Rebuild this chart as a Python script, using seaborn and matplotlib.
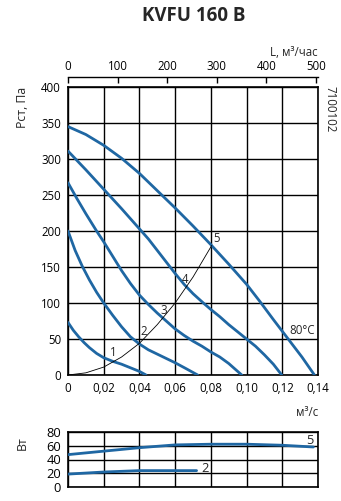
import numpy as np
import pandas as pd
import matplotlib
matplotlib.use("Agg")
import matplotlib.pyplot as plt
import seaborn as sns

# ---------------- data ----------------
title = "KVFU 160 B"
q_ticks = [0, 0.02, 0.04, 0.06, 0.08, 0.10, 0.12, 0.14]
q_tick_labels = ["0", "0,02", "0,04", "0,06", "0,08", "0,10", "0,12", "0,14"]
p_ticks = [0, 50, 100, 150, 200, 250, 300, 350, 400]
L_ticks = [0, 100, 200, 300, 400, 500]
w_ticks = [0, 20, 40, 60, 80]

c1_q = [0, 0.003, 0.006, 0.009, 0.012, 0.016, 0.020, 0.025, 0.030, 0.035, 0.040, 0.0437]
c1_p = [73, 62, 53, 45, 38, 30, 24, 19, 15, 10, 5, 0]

c2_q = [0, 0.004, 0.008, 0.012, 0.016, 0.020, 0.025, 0.030, 0.035, 0.040, 0.045, 0.050, 0.055, 0.060, 0.066, 0.0726]
c2_p = [200, 173, 151, 132, 115, 100, 83, 67, 53, 43, 35, 29, 23, 17, 9, 0]

c3_q = [0, 0.005, 0.010, 0.016, 0.020, 0.025, 0.030, 0.035, 0.040, 0.045, 0.050, 0.055, 0.060, 0.065, 0.070, 0.075, 0.080, 0.085, 0.090, 0.0973]
c3_p = [267, 245, 224, 200, 185, 165, 145, 127, 111, 98, 86, 75, 64, 55, 47, 40, 32, 25, 16, 0]

c4_q = [0, 0.010, 0.020, 0.030, 0.040, 0.045, 0.050, 0.055, 0.060, 0.065, 0.070, 0.0758, 0.080, 0.085, 0.090, 0.095, 0.100, 0.105, 0.110, 0.115, 0.1197]
c4_p = [311, 285, 258, 231, 203, 189, 173, 157, 141, 126, 113, 100, 91, 81, 70, 60, 50, 40, 28, 15, 0]

c5_q = [0, 0.010, 0.020, 0.030, 0.040, 0.050, 0.060, 0.070, 0.080, 0.090, 0.100, 0.1075, 0.115, 0.123, 0.131, 0.138]
c5_p = [345, 334, 319, 301, 280, 256, 232, 207, 181, 154, 126, 102, 77, 51, 25, 0]

sys_q = [0, 0.01, 0.02, 0.03, 0.04, 0.05, 0.06, 0.07, 0.0805]
sys_p = [0, 3, 11, 25, 44, 70, 100, 136, 180]

w5_q = [0, 0.02, 0.04, 0.06, 0.08, 0.10, 0.12, 0.1374]
w5_w = [47, 52, 57, 61, 62, 62, 60.5, 58]
w2_q = [0, 0.02, 0.04, 0.06, 0.072]
w2_w = [19, 22, 24, 24, 24]

curve_names = ["1", "2", "3", "4", "5"]

# ---------------- style ----------------
sns.set_style("white")
plt.rcParams["font.family"] = ["Open Sans", "DejaVu Sans"]
BLUE = "#1f67a3"
FS = 8.3

fig = plt.figure(figsize=(3.41, 5.01), dpi=100)
ax = fig.add_axes([68 / 341, 1 - 375 / 501, 250 / 341, 288 / 501])
axw = fig.add_axes([68 / 341, 1 - 487.3 / 501, 250 / 341, 55.6 / 501])

pres = pd.concat([
    pd.DataFrame({"q": q, "p": p, "curve": n})
    for n, q, p in zip(curve_names, [c1_q, c2_q, c3_q, c4_q, c5_q], [c1_p, c2_p, c3_p, c4_p, c5_p])
])
sns.lineplot(data=pres, x="q", y="p", units="curve", estimator=None, sort=False,
             color=BLUE, lw=2.0, ax=ax, zorder=3)
sns.lineplot(x=sys_q, y=sys_p, color="black", lw=0.6, ax=ax, estimator=None, sort=False, zorder=4)

ax.set_xlim(0, 0.14)
ax.set_ylim(0, 400)
ax.set_xticks(q_ticks)
ax.set_xticklabels(q_tick_labels)
ax.set_yticks(p_ticks)
ax.grid(True, color="black", lw=1.0)
ax.set_axisbelow(True)
ax.tick_params(length=0, labelsize=FS, pad=5, colors="black")
ax.set_xlabel("")
ax.set_ylabel("")
for s in ax.spines.values():
    s.set_color("black")
    s.set_linewidth(1.2)

# curve labels
ax.text(0.0254, 31, "1", fontsize=FS, ha="center", va="center")
ax.text(0.0426, 61, "2", fontsize=FS, ha="center", va="center")
ax.text(0.0534, 89, "3", fontsize=FS, ha="center", va="center")
ax.text(0.0655, 132, "4", fontsize=FS, ha="center", va="center")
ax.text(0.0830, 190, "5", fontsize=FS, ha="center", va="center")
ax.text(0.1312, 61.5, "80°C", fontsize=FS, ha="center", va="center")

# top axis (m3/h)
ax2 = ax.twiny()
ax2.set_xlim(0, 0.14 * 3600)
ax2.set_xticks(L_ticks)
for k in ["left", "right", "bottom"]:
    ax2.spines[k].set_visible(False)
ax2.spines["top"].set_position(("outward", 7))
ax2.spines["top"].set_linewidth(1.0)
ax2.spines["top"].set_color("black")
ax2.tick_params(axis="x", direction="in", length=4, width=1.0, labelsize=FS, pad=3, colors="black")
ax2.grid(False)

fig.text(318 / 341, 1 - 52 / 501, "L, м³/час", fontsize=FS, ha="right", va="center")
fig.text(22 / 341, 1 - 87 / 501, "Рст, Па", fontsize=FS + 0.5, rotation=90, ha="center", va="top")
fig.text(330 / 341, 1 - 86 / 501, "7100102", fontsize=FS, rotation=270, ha="center", va="top")
fig.text(194 / 341, 1 - 16 / 501, title, fontsize=13.5, fontweight="bold", ha="center", va="center")
fig.text(318 / 341, 1 - 412 / 501, "м³/с", fontsize=FS, ha="right", va="center")
fig.text(22 / 341, 1 - 443 / 501, "Вт", fontsize=FS + 0.5, rotation=90, ha="center", va="center")

# power panel
powr = pd.concat([
    pd.DataFrame({"q": w5_q, "w": w5_w, "curve": "5"}),
    pd.DataFrame({"q": w2_q, "w": w2_w, "curve": "2"}),
])
sns.lineplot(data=powr, x="q", y="w", units="curve", estimator=None, sort=False,
             color=BLUE, lw=2.0, ax=axw, zorder=3)
axw.set_xlim(0, 0.14)
axw.set_ylim(0, 80)
axw.set_xticks(q_ticks)
axw.set_yticks(w_ticks)
axw.set_xticklabels([])
axw.grid(True, color="black", lw=1.0)
axw.set_axisbelow(True)
axw.tick_params(length=0, labelsize=FS + 1, pad=5, colors="black")
axw.set_xlabel("")
axw.set_ylabel("")
for s in axw.spines.values():
    s.set_color("black")
    s.set_linewidth(1.2)
axw.text(0.1355, 67, "5", fontsize=FS + 1, ha="center", va="center")
axw.text(0.0767, 27.5, "2", fontsize=FS + 1, ha="center", va="center")

fig.savefig("out.png", dpi=100)
